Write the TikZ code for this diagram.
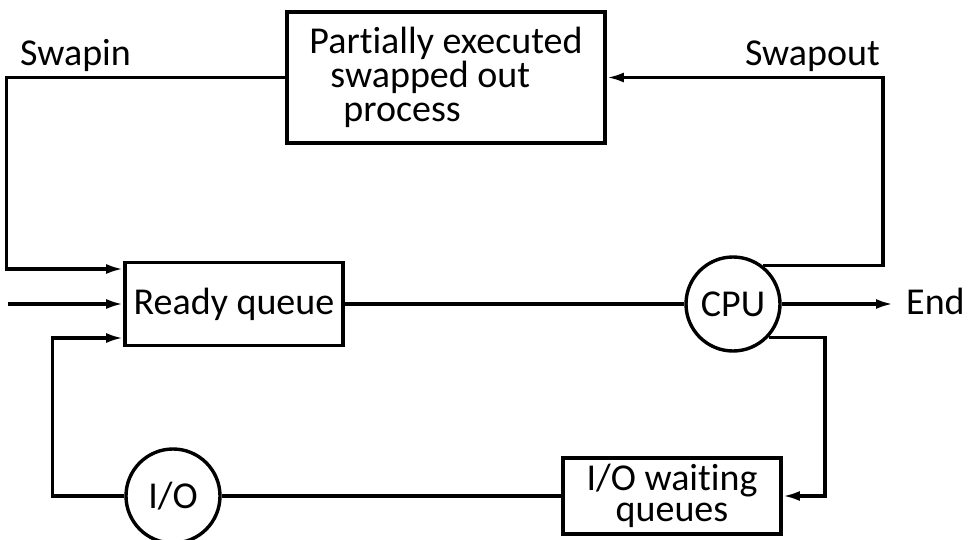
\documentclass[tikz,border=0pt]{standalone}
\usepackage{fontspec}
\setmainfont{Carlito}[RawFeature=-liga]
\usetikzlibrary{arrows.meta,positioning}

\begin{document}
\begin{tikzpicture}[
  x=1pt,y=-1pt,
  >={Latex[length=17pt,width=10pt]},
  every node/.style={font=\fontsize{38}{34}\selectfont},
  qbox/.style={draw,line width=3.8pt,rectangle,inner sep=0pt,align=center},
  unit/.style={draw,line width=3.4pt,circle,minimum size=94pt,inner sep=0pt},
  lbl/.style={inner sep=0pt},
  flow/.style={line width=3.2pt}
]
  \useasboundingbox (0,0) rectangle (968,540);

  \node[qbox,minimum width=318pt,minimum height=131pt,align=left] (swapped) at (446,77.5)
    {Partially executed\\\hspace*{21pt}swapped out\\\hspace*{34pt}process};
  \node[qbox,minimum width=218pt,minimum height=83pt] (ready) at (234,304) {Ready queue};
  \node[unit] (cpu) at (733,304) {CPU};
  \node[unit] (io) at (173,496) {I/O};
  \node[qbox,minimum width=218pt,minimum height=76pt,
    font=\fontsize{38}{31}\selectfont] (iowait) at (672,496) {I/O waiting\\queues};

  \node[lbl,anchor=base west] (swapinlbl) at (20,66) {Swapin};
  \node[lbl,anchor=base east] (swapoutlbl) at (880,66) {Swapout};
  \node[lbl,anchor=base west] (endlbl) at (906,314) {End};
  \coordinate (newjob) at (8,304);

  \draw[flow,->] (swapped.west) -- ++(-279,0) |- ([yshift=35pt]ready.west);
  \draw[flow,->] (newjob) -- (ready.west);
  \draw[flow,->] (io.west) -- ++(-72,0) |- ([yshift=-34pt]ready.west);
  \draw[flow] (ready.east) -- (cpu.west);
  \draw[flow,->,shorten >=13pt] (cpu.east) -- (cpu.east -| endlbl.west);
  \draw[flow,->] (cpu.52) -| ([xshift=276pt]swapped.east) -- (swapped.east);
  \draw[flow,->] (cpu.-43) -| ([xshift=42pt]iowait.east) -- (iowait.east);
  \draw[flow] (iowait.west) -- (io.east);
\end{tikzpicture}
\end{document}
